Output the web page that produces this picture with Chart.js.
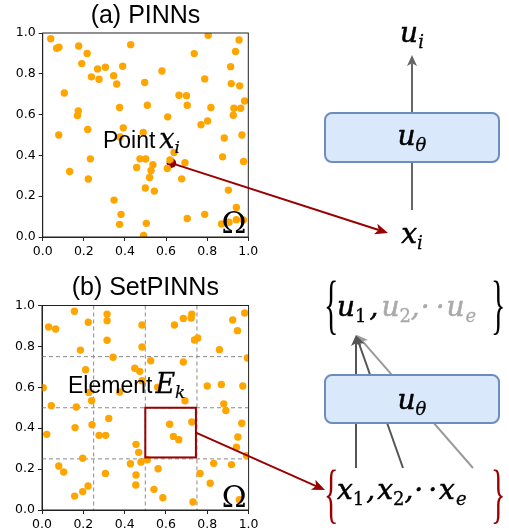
<!DOCTYPE html>
<html>
<head>
<meta charset="utf-8">
<script src="https://cdn.jsdelivr.net/npm/chart.js@4.4.1/dist/chart.umd.min.js"></script>
<style>
  html, body { margin:0; padding:0; background:#fff; }
  #wrap { position:relative; width:509px; height:531px; overflow:hidden; }
  canvas { position:absolute; left:0; }
</style>
</head>
<body>
<div id="wrap">
  <canvas id="c1" width="509" height="265" style="top:0px"></canvas>
  <canvas id="c2" width="509" height="266" style="top:265px"></canvas>
</div>
<script>
// ---------------- data ----------------
const tickValues = [0, 0.2, 0.4, 0.6, 0.8, 1.0];
const tickLabels = ['0.0', '0.2', '0.4', '0.6', '0.8', '1.0'];

const pinnX = [0.039,0.068,0.079,0.175,0.216,0.428,0.805,0.955,0.737,0.938,0.190,0.267,0.305,0.389,0.237,0.274,0.345,0.360,0.580,0.496,0.788,0.914,0.917,0.958,0.105,0.663,0.699,0.703,0.982,0.509,0.374,0.818,0.930,0.963,0.173,0.169,0.608,0.927,0.770,0.802,0.392,0.219,0.078,0.489,0.376,0.883,0.969,0.875,0.473,0.501,0.232,0.977,0.692,0.457,0.536,0.527,0.606,0.639,0.619,0.131,0.520,0.222,0.676,0.499,0.543,0.903,0.347,0.381,0.788,0.942,0.703,0.374,0.504,0.870,0.906,0.942,0.976,0.491];
const pinnY = [0.972,0.925,0.930,0.936,0.900,0.943,0.989,0.966,0.899,0.909,0.850,0.824,0.832,0.837,0.785,0.773,0.791,0.750,0.814,0.757,0.775,0.835,0.752,0.741,0.706,0.695,0.693,0.646,0.667,0.646,0.635,0.635,0.631,0.631,0.618,0.595,0.589,0.597,0.550,0.569,0.535,0.527,0.500,0.512,0.490,0.485,0.500,0.393,0.383,0.382,0.383,0.370,0.364,0.341,0.354,0.326,0.336,0.414,0.378,0.321,0.292,0.284,0.285,0.240,0.225,0.230,0.181,0.111,0.111,0.145,0.091,0.062,0.067,0.064,0.072,0.085,0.083,0.008];
const highlightX = [0.626];
const highlightY = [0.362];

const setX = [0.157,0.315,0.315,0.725,0.722,0.684,0.981,0.032,0.066,0.224,0.484,0.641,0.923,0.946,0.315,0.738,0.754,0.186,0.484,0.859,0.344,0.994,0.526,0.684,0.211,0.449,0.473,0.484,0.006,0.560,0.376,0.800,0.868,0.972,0.227,0.240,0.692,0.045,0.166,0.880,0.890,0.323,0.242,0.160,0.023,0.276,0.308,0.618,0.725,0.636,0.662,0.967,0.948,0.941,0.990,0.455,0.468,0.197,0.479,0.510,0.428,0.081,0.105,0.307,0.455,0.562,0.831,0.917,0.765,0.814,0.223,0.197,0.158,0.454,0.542,0.585,0.731,0.955];
const setY = [0.972,0.958,0.926,0.958,0.939,0.937,0.963,0.895,0.885,0.918,0.905,0.905,0.929,0.877,0.830,0.831,0.841,0.782,0.797,0.784,0.747,0.743,0.730,0.724,0.686,0.693,0.678,0.632,0.598,0.600,0.577,0.606,0.614,0.606,0.575,0.534,0.534,0.510,0.504,0.518,0.486,0.448,0.417,0.403,0.370,0.365,0.365,0.419,0.430,0.360,0.344,0.424,0.357,0.307,0.266,0.321,0.282,0.253,0.235,0.246,0.226,0.215,0.186,0.179,0.171,0.202,0.228,0.222,0.179,0.131,0.117,0.090,0.068,0.122,0.101,0.060,0.039,0.050];

const elementGrid = [0.25, 0.5, 0.75];
const elementBox = [0.5, 0.745, 0.257, 0.5];   // x0, x1, y0, y1
const elementArrowStart = [0.745, 0.378];

const pointLabelAt = [0.293, 0.436];
const elementLabelAt = [0.126, 0.572];
const omegaTopAt = [0.87, 0.02];
const omegaBotAt = [0.87, 0.015];

// ---------------- helpers ----------------
const RED = '#990000';
const SANS = "'Liberation Sans', Arial, sans-serif";
const SERIF = "'Liberation Serif', 'Times New Roman', serif";
const MSERIF = "'DejaVu Serif', serif";

function toPts(xs, ys) { return xs.map((x, i) => ({x: x, y: ys[i]})); }

function arrow(ctx, x1, y1, x2, y2, color, lw, hl, hw) {
  const a = Math.atan2(y2 - y1, x2 - x1);
  const c = Math.cos(a), s = Math.sin(a);
  const bx = x2 - hl * c, by = y2 - hl * s;
  const nx = x2 - hl * 0.75 * c, ny = y2 - hl * 0.75 * s;
  ctx.save();
  ctx.strokeStyle = color; ctx.lineWidth = lw; ctx.lineCap = 'butt';
  ctx.beginPath(); ctx.moveTo(x1, y1); ctx.lineTo(nx, ny); ctx.stroke();
  ctx.fillStyle = color;
  ctx.beginPath();
  ctx.moveTo(x2, y2);
  ctx.lineTo(bx + hw * s, by - hw * c);
  ctx.lineTo(nx, ny);
  ctx.lineTo(bx - hw * s, by + hw * c);
  ctx.closePath(); ctx.fill();
  ctx.restore();
}

// sequence of text runs; `w` = extra stroke weight to mimic heavier math glyphs
function seq(ctx, items, x, y, align) {
  let w = 0;
  for (const it of items) { ctx.font = it.f; w += ctx.measureText(it.t).width + (it.dx || 0); }
  let cx = align === 'center' ? x - w / 2 : x;
  ctx.save();
  ctx.textAlign = 'left'; ctx.textBaseline = 'alphabetic'; ctx.lineJoin = 'round';
  for (const it of items) {
    ctx.font = it.f; cx += (it.dx || 0);
    ctx.fillStyle = it.c || '#000';
    ctx.fillText(it.t, cx, y + (it.dy || 0));
    if (it.w) { ctx.strokeStyle = it.c || '#000'; ctx.lineWidth = it.w; ctx.strokeText(it.t, cx, y + (it.dy || 0)); }
    cx += ctx.measureText(it.t).width;
  }
  ctx.restore();
  return cx;
}

function brace(ctx, ch, x, y, color) {
  ctx.save();
  ctx.translate(x, y);
  ctx.scale(1, 2.15);
  ctx.font = "30px " + SERIF;
  ctx.fillStyle = color;
  ctx.textAlign = 'left'; ctx.textBaseline = 'middle';
  ctx.fillText(ch, 0, 0);
  ctx.restore();
}

function roundBox(ctx, x, y, w, h, r) {
  ctx.save();
  ctx.beginPath();
  ctx.moveTo(x + r, y); ctx.lineTo(x + w - r, y); ctx.arcTo(x + w, y, x + w, y + r, r);
  ctx.lineTo(x + w, y + h - r); ctx.arcTo(x + w, y + h, x + w - r, y + h, r);
  ctx.lineTo(x + r, y + h); ctx.arcTo(x, y + h, x, y + h - r, r);
  ctx.lineTo(x, y + r); ctx.arcTo(x, y, x + r, y, r);
  ctx.closePath();
  ctx.fillStyle = '#dae8fc'; ctx.fill();
  ctx.strokeStyle = '#6c8ebf'; ctx.lineWidth = 2; ctx.stroke();
  ctx.restore();
}

const MATH = "italic 28px " + MSERIF;
const SUBI = "italic 18px " + MSERIF;
const SUBN = "18px " + MSERIF;
const W1 = 0.55, W2 = 0.3;

function scaleOpts(axis, size) {
  return {
    type: 'linear', min: 0, max: 1,
    afterBuildTicks: s => { s.ticks = tickValues.map(v => ({value: v})); },
    ticks: {
      color: '#000', padding: 3, autoSkip: false, maxRotation: 0,
      font: {family: 'DejaVu Sans', size: 12.5},
      callback: (v, i) => tickLabels[i]
    },
    grid: {display: true, drawOnChartArea: false, drawTicks: true, tickLength: 4, color: '#222', lineWidth: 1},
    border: {display: true, color: '#222', width: 1},
    afterFit: s => { if (axis === 'x') s.height = size; else s.width = size; }
  };
}

function frameAndTitle(title, baseline) {
  return {
    id: 'frame_' + title.length,
    afterDraw(chart) {
      const ctx = chart.ctx, a = chart.chartArea;
      ctx.save();
      ctx.strokeStyle = '#222'; ctx.lineWidth = 1;
      ctx.strokeRect(a.left, a.top, a.right - a.left, a.bottom - a.top);
      ctx.font = "25px " + SANS; ctx.fillStyle = '#000';
      ctx.textAlign = 'center'; ctx.textBaseline = 'alphabetic';
      ctx.fillText(title, (a.left + a.right) / 2, baseline);
      ctx.restore();
    }
  };
}

// ---------------- top chart ----------------
const topPlugin = {
  id: 'topDiagram',
  afterDraw(chart) {
    const ctx = chart.ctx, xs = chart.scales.x, ys = chart.scales.y;
    seq(ctx, [
      {t: 'Point', f: "23px " + SANS},
      {t: 'x', f: "italic 27px " + MSERIF, dx: 4, w: 0.3},
      {t: 'i', f: "italic 17px " + MSERIF, dy: 5, w: 0.2}
    ], xs.getPixelForValue(pointLabelAt[0]), ys.getPixelForValue(pointLabelAt[1]), 'left');
    seq(ctx, [{t: 'Ω', f: "30px " + MSERIF}], xs.getPixelForValue(omegaTopAt[0]), ys.getPixelForValue(omegaTopAt[1]), 'left');

    const cx = 412;
    arrow(ctx, cx, 210, cx, 55, '#666', 2, 11, 5);
    roundBox(ctx, 325, 113, 174, 49, 7);
    seq(ctx, [{t: 'u', f: MATH, w: W1}, {t: 'i', f: SUBI, dy: 6, w: W2}], cx, 42, 'center');
    seq(ctx, [{t: 'u', f: MATH, w: W1}, {t: 'θ', f: SUBI, dy: 6, w: W2}], cx, 145, 'center');
    seq(ctx, [{t: 'x', f: MATH, w: W1}, {t: 'i', f: SUBI, dy: 6, w: W2}], cx, 243, 'center');

    arrow(ctx, xs.getPixelForValue(highlightX[0]), ys.getPixelForValue(highlightY[0]), 388, 233, RED, 2, 13, 5.5);
  }
};

new Chart(document.getElementById('c1'), {
  type: 'scatter',
  data: {
    datasets: [
      {data: toPts(pinnX, pinnY), backgroundColor: '#FFA500', borderWidth: 0, pointRadius: 3.7},
      {data: toPts(highlightX, highlightY), backgroundColor: '#8B0000', borderWidth: 0, pointRadius: 4.8}
    ]
  },
  options: {
    responsive: false, animation: false, devicePixelRatio: 1,
    layout: {padding: {left: 0, top: 33, right: 260.7, bottom: 0}},
    plugins: {legend: {display: false}, tooltip: {enabled: false}},
    scales: {x: scaleOpts('x', 28), y: scaleOpts('y', 42.7)}
  },
  plugins: [frameAndTitle('(a) PINNs', 23), topPlugin]
});

// ---------------- bottom chart ----------------
const gridPlugin = {
  id: 'elemGrid',
  beforeDatasetsDraw(chart) {
    const ctx = chart.ctx, a = chart.chartArea, xs = chart.scales.x, ys = chart.scales.y;
    ctx.save();
    ctx.strokeStyle = '#8a8a8a'; ctx.lineWidth = 1; ctx.setLineDash([4, 3]);
    for (const g of elementGrid) {
      const px = xs.getPixelForValue(g), py = ys.getPixelForValue(g);
      ctx.beginPath(); ctx.moveTo(px, a.top); ctx.lineTo(px, a.bottom); ctx.stroke();
      ctx.beginPath(); ctx.moveTo(a.left, py); ctx.lineTo(a.right, py); ctx.stroke();
    }
    ctx.restore();
  }
};

const botPlugin = {
  id: 'botDiagram',
  afterDraw(chart) {
    const ctx = chart.ctx, xs = chart.scales.x, ys = chart.scales.y;
    const off = 265;
    const x0 = xs.getPixelForValue(elementBox[0]), x1 = xs.getPixelForValue(elementBox[1]);
    const y0 = ys.getPixelForValue(elementBox[2]), y1 = ys.getPixelForValue(elementBox[3]);
    ctx.save(); ctx.strokeStyle = RED; ctx.lineWidth = 2;
    ctx.strokeRect(x0, y1, x1 - x0, y0 - y1); ctx.restore();

    seq(ctx, [
      {t: 'Element', f: "23px " + SANS},
      {t: 'E', f: "italic 27px " + MSERIF, dx: 3, w: 0.3},
      {t: 'k', f: "italic 17px " + MSERIF, dy: 5, w: 0.2}
    ], xs.getPixelForValue(elementLabelAt[0]), ys.getPixelForValue(elementLabelAt[1]), 'left');
    seq(ctx, [{t: 'Ω', f: "30px " + MSERIF}], xs.getPixelForValue(omegaBotAt[0]), ys.getPixelForValue(omegaBotAt[1]), 'left');

    const tipX = 356, tipY = 335 - off, baseY = 468 - off;
    arrow(ctx, 473, baseY, tipX + 1, tipY, '#9a9a9a', 2, 11, 5);
    arrow(ctx, 403, baseY, tipX, tipY, '#555', 2, 11, 5);
    arrow(ctx, 356, baseY, tipX, tipY, '#555', 2, 11, 5);
    roundBox(ctx, 325, 375 - off, 174, 48, 7);
    seq(ctx, [{t: 'u', f: MATH, w: W1}, {t: 'θ', f: SUBI, dy: 6, w: W2}], 412, 409 - off, 'center');

    const G = '#aaaaaa';
    brace(ctx, '{', 324, 309 - off, '#000');
    seq(ctx, [
      {t: 'u', f: MATH, w: W1},
      {t: '1', f: SUBN, dy: 6, w: W2},
      {t: ',', f: MATH, dx: 3, w: W1},
      {t: 'u', f: MATH, c: G, dx: 3, w: W1},
      {t: '2', f: SUBN, c: G, dy: 6, w: W2},
      {t: ',', f: MATH, c: G, w: W1},
      {t: '·', f: MATH, c: G, dx: 1, w: W1},
      {t: '·', f: MATH, c: G, dx: 6, w: W1},
      {t: 'u', f: MATH, c: G, dx: 2, w: W1},
      {t: 'e', f: SUBI, c: G, dy: 6, dx: 1, w: W2}
    ], 337, 316 - off, 'left');
    brace(ctx, '}', 491, 309 - off, '#000');

    brace(ctx, '{', 324, 498 - off, RED);
    seq(ctx, [
      {t: 'x', f: MATH, w: W1},
      {t: '1', f: SUBN, dy: 6, w: W2},
      {t: ',', f: MATH, dx: 2, w: W1},
      {t: 'x', f: MATH, dx: 2, w: W1},
      {t: '2', f: SUBN, dy: 6, w: W2},
      {t: ',', f: MATH, w: W1},
      {t: '·', f: MATH, dx: 1, w: W1},
      {t: '·', f: MATH, dx: 5, w: W1},
      {t: 'x', f: MATH, dx: 2, w: W1},
      {t: 'e', f: SUBI, dy: 6, dx: 1, w: W2}
    ], 337, 499 - off, 'left');
    brace(ctx, '}', 491, 498 - off, RED);

    arrow(ctx, xs.getPixelForValue(elementArrowStart[0]), ys.getPixelForValue(elementArrowStart[1]), 325, 490 - off, RED, 2, 13, 5.5);
  }
};

new Chart(document.getElementById('c2'), {
  type: 'scatter',
  data: {
    datasets: [
      {data: toPts(setX, setY), backgroundColor: '#FFA500', borderWidth: 0, pointRadius: 3.7}
    ]
  },
  options: {
    responsive: false, animation: false, devicePixelRatio: 1,
    layout: {padding: {left: 0, top: 40.5, right: 260.4, bottom: 0}},
    plugins: {legend: {display: false}, tooltip: {enabled: false}},
    scales: {x: scaleOpts('x', 21), y: scaleOpts('y', 42)}
  },
  plugins: [frameAndTitle('(b) SetPINNs', 30), gridPlugin, botPlugin]
});
</script>
</body>
</html>
